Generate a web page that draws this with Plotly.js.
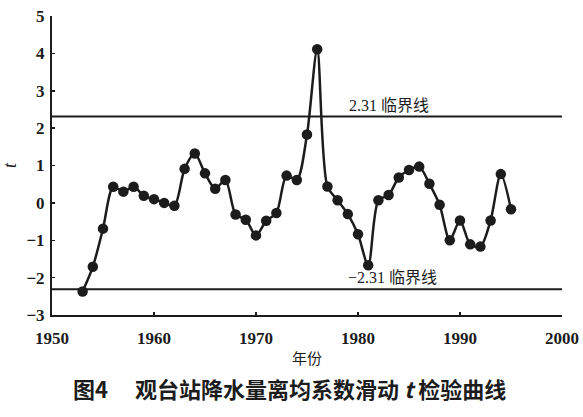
<!DOCTYPE html>
<html>
<head>
<meta charset="utf-8">
<script src="https://cdn.plot.ly/plotly-3.0.1.min.js"></script>
<style>html,body{margin:0;padding:0;background:#fff;}#chart{width:583px;height:417px;}</style>
</head>
<body>
<div id="chart"></div>
<script>
const years = [1953,1954,1955,1956,1957,1958,1959,1960,1961,1962,1963,1964,1965,1966,1967,1968,1969,1970,1971,1972,1973,1974,1975,1976,1977,1978,1979,1980,1981,1982,1983,1984,1985,1986,1987,1988,1989,1990,1991,1992,1993,1994,1995];
const tValues = [-2.37,-1.71,-0.69,0.43,0.30,0.43,0.19,0.10,0.00,-0.08,0.91,1.32,0.79,0.38,0.61,-0.31,-0.45,-0.87,-0.48,-0.27,0.73,0.61,1.83,4.11,0.44,0.07,-0.30,-0.84,-1.67,0.07,0.21,0.68,0.88,0.97,0.51,-0.05,-1.00,-0.47,-1.11,-1.17,-0.47,0.77,-0.17];
const critical = 2.31;
const criticalLabels = ["2.31 临界线", "−2.31 临界线"];
const xTicks = [1950,1960,1970,1980,1990,2000];
const yTicks = [-3,-2,-1,0,1,2,3,4,5];
const xTitle = "年份";
const yTitle = "t";
const caption = "图4　 观台站降水量离均系数滑动 <i>t</i> 检验曲线";

const ink = "#1c1c1c";
const serif = "Liberation Serif, 'Noto Sans CJK SC', serif";

const traces = [
  {x: [1950, 2000], y: [critical, critical], mode: "lines", line: {color: ink, width: 2}, hoverinfo: "skip"},
  {x: [1950, 2000], y: [-critical, -critical], mode: "lines", line: {color: ink, width: 2}, hoverinfo: "skip"},
  {x: years, y: tValues, mode: "lines+markers", line: {color: ink, width: 2.5, shape: "spline", smoothing: 0.8},
   marker: {color: ink, size: 10.5}}
];

const layout = {
  width: 583, height: 417,
  margin: {l: 52, r: 21, t: 16, b: 102},
  paper_bgcolor: "#fff", plot_bgcolor: "#fff",
  showlegend: false,
  font: {family: serif, color: ink, size: 16},
  xaxis: {
    range: [1950, 2000], tickvals: xTicks, ticktext: xTicks.map(String),
    showgrid: false, zeroline: false, showline: true, linecolor: ink, linewidth: 2,
    ticks: "inside", ticklen: 3, tickwidth: 1.5, tickcolor: ink,
    ticklabelstandoff: 7,
    tickfont: {family: serif, size: 17, weight: "bold", color: ink},
    title: {text: xTitle, standoff: 6, font: {family: "'Noto Sans CJK SC', sans-serif", size: 15, color: ink}}
  },
  yaxis: {
    range: [-3, 5], tickvals: yTicks, ticktext: yTicks.map(v => v < 0 ? "−" + Math.abs(v) : String(v)),
    showgrid: false, zeroline: false, showline: true, linecolor: ink, linewidth: 2,
    ticks: "inside", ticklen: 3, tickwidth: 1.5, tickcolor: ink,
    ticklabelstandoff: 2,
    tickfont: {family: serif, size: 17, weight: "bold", color: ink},
    title: {text: "<i>" + yTitle + "</i>", standoff: 8, font: {family: serif, size: 18, color: ink}}
  },
  annotations: [
    {x: 1978.9, y: critical, xref: "x", yref: "y", text: criticalLabels[0], showarrow: false,
     xanchor: "left", yanchor: "bottom", yshift: 1, font: {family: serif, size: 16, color: ink}},
    {x: 1978.8, y: -critical, xref: "x", yref: "y", text: criticalLabels[1], showarrow: false,
     xanchor: "left", yanchor: "bottom", yshift: 1, font: {family: serif, size: 16, color: ink}},
    {x: 0.465, y: -0.245, xref: "paper", yref: "paper", text: caption, showarrow: false,
     xanchor: "center", yanchor: "middle",
     font: {family: "'Noto Sans CJK SC', sans-serif", size: 22, weight: "bold", color: ink}}
  ]
};

Plotly.newPlot("chart", traces, layout, {staticPlot: true, displayModeBar: false});
</script>
</body>
</html>
